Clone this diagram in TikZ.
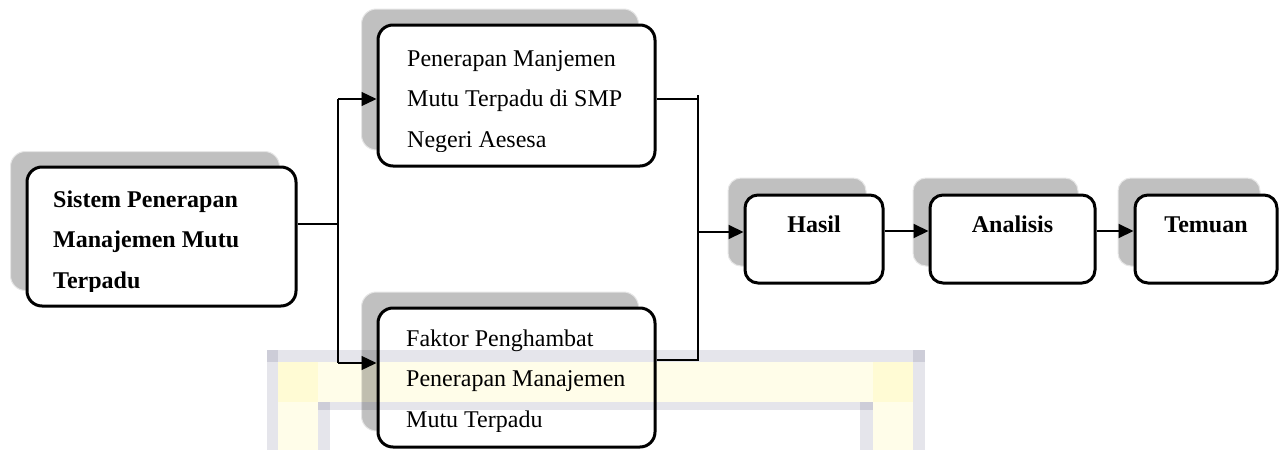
\documentclass[tikz,border=0pt]{standalone}
\usepackage{fontspec}
\setmainfont{Liberation Serif}
\usetikzlibrary{arrows.meta,calc}
\definecolor{shadowgray}{HTML}{C0C0C0}
\definecolor{shadowedge}{HTML}{E6E6E6}
\definecolor{wmgray}{HTML}{E5E5EB}
\definecolor{wmyellow}{HTML}{FFFDE9}
\begin{document}
\begin{tikzpicture}[x=1pt,y=-1pt,
  mainbox/.style={draw=black,line width=3pt,fill=white,rounded corners=15pt,inner sep=0pt},
  smallbox/.style={draw=black,line width=3pt,fill=white,rounded corners=13pt,inner sep=0pt,minimum height=88pt},
  shadowbox/.style={draw=shadowedge,line width=1pt,fill=shadowgray,inner sep=0pt},
  boxtext/.style={anchor=north west,align=left,inner sep=0pt,font=\fontsize{24}{40.5}\selectfont},
  labeltext/.style={anchor=base,inner sep=0pt,font=\fontsize{24}{29}\selectfont\bfseries},
  treeline/.style={line width=1.3pt},
  flowarrow/.style={line width=2pt,-{Triangle[length=15pt,width=14pt]}},
  treearrow/.style={line width=1.3pt,-{Triangle[length=15pt,width=14pt]}}
]
\useasboundingbox (0,0) rectangle (1288,450);
\fill[white] (0,0) rectangle (1288,450);

% shadows
\node[shadowbox,rounded corners=15pt,minimum width=269pt,minimum height=139pt] (sA) at (145,221) {};
\node[shadowbox,rounded corners=15pt,minimum width=277pt,minimum height=141pt] (sB) at (500,79.5) {};
\node[shadowbox,rounded corners=15pt,minimum width=277pt,minimum height=139pt] (sC) at (500,361.5) {};
\node[shadowbox,rounded corners=13pt,minimum width=138pt,minimum height=88pt] (sH) at (797,222) {};
\node[shadowbox,rounded corners=13pt,minimum width=165pt,minimum height=88pt] (sN) at (995.5,222) {};
\node[shadowbox,rounded corners=13pt,minimum width=142pt,minimum height=88pt] (sT) at (1189,222) {};

% boxes
\node[mainbox,minimum width=269pt,minimum height=139pt] (A) at (161.5,236.5) {};
\node[mainbox,minimum width=277pt,minimum height=141pt] (B) at (516.5,95.5) {};
\node[mainbox,minimum width=277pt,minimum height=139pt] (C) at (516.5,377.5) {};
\node[smallbox,minimum width=138pt] (H) at (814,239) {};
\node[smallbox,minimum width=165pt] (N) at (1012.5,239) {};
\node[smallbox,minimum width=142pt] (T) at (1206,239) {};

% texts (clipped like the original text frames)
\begin{scope}
\clip (0,0) rectangle (1288,291);
\node[boxtext,font=\fontsize{24}{40.5}\selectfont\bfseries] (tA) at (53,189) {\rule{0pt}{18pt}Sistem Penerapan\\Manajemen Mutu\\Terpadu};
\end{scope}
\begin{scope}
\clip (0,0) rectangle (1288,151);
\node[boxtext] (tB) at (407,48) {\rule{0pt}{18pt}Penerapan Manjemen\\Mutu Terpadu di SMP\\Negeri Aesesa};
\end{scope}
\begin{scope}
\clip (0,300) rectangle (1288,431);
\node[boxtext] (tC) at (406,328) {\rule{0pt}{18pt}Faktor Penghambat\\Penerapan Manajemen\\Mutu Terpadu};
\end{scope}
\node[labeltext] (tH) at (814,232) {Hasil};
\node[labeltext] (tN) at (1012.5,232) {Analisis};
\node[labeltext] (tT) at (1206,232) {Temuan};

% left tree
\coordinate (j1) at (338,224);
\coordinate (t1) at (338,99);
\coordinate (b1) at (338,363);
\draw[treeline] (A.east |- j1) -- (j1);
\draw[treeline] (t1) -- (b1);
\draw[treearrow] (t1) -- (B.west |- t1);
\draw[treearrow] (b1) -- (C.west |- b1);

% right tree
\coordinate (r1) at (699,99);
\coordinate (r2) at (699,360);
\coordinate (t2) at (698,95);
\coordinate (b2) at (698,361);
\coordinate (m) at (697,232);
\draw[treeline] (B.east |- r1) -- (r1);
\draw[treeline] (C.east |- r2) -- (r2);
\draw[line width=1.5pt] (t2) -- (b2);
\draw[flowarrow] (m) -- (H.west |- m);
\coordinate (m2) at (0,231);
\draw[flowarrow] (H.east |- m2) -- (N.west |- m2);
\draw[flowarrow] (N.east |- m2) -- (T.west |- m2);

% faint watermark
\begin{scope}[blend mode=multiply]
\fill[wmgray] (267,350) rectangle (925,362);
\fill[wmgray] (267,350) rectangle (278,450);
\fill[wmgray] (913,350) rectangle (925,450);
\fill[wmyellow] (278,362) rectangle (913,402);
\fill[wmyellow] (278,362) rectangle (318,450);
\fill[wmyellow] (873,362) rectangle (913,450);
\fill[wmgray] (318,402) rectangle (873,410);
\fill[wmgray] (318,402) rectangle (330,450);
\fill[wmgray] (860,402) rectangle (873,450);
\end{scope}
\end{tikzpicture}
\end{document}
